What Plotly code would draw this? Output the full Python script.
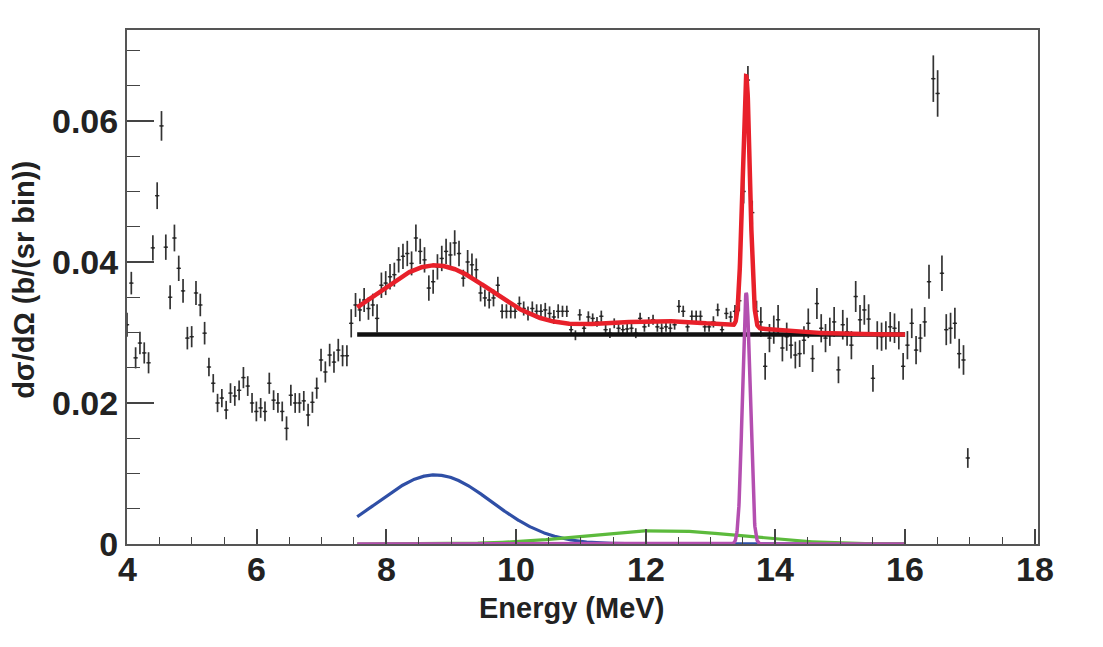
import numpy as np
import plotly.graph_objects as go

# ---------------- data ----------------
E_FIRST = 4.0          # centre of first bin (MeV)
BIN_WIDTH = 0.0665     # bin width (MeV)

xs_low = [0.0311, 0.0370, 0.0264, 0.0285, 0.0271, 0.0257, 0.0420, 0.0494, 0.0593, 0.0421,
          0.0350, 0.0434, 0.0391, 0.0359, 0.0292, 0.0294, 0.0356, 0.0339, 0.0299, 0.0251,
          0.0228, 0.0200, 0.0207, 0.0190, 0.0214, 0.0210, 0.0218, 0.0236, 0.0224, 0.0200,
          0.0188, 0.0193, 0.0188, 0.0228, 0.0204, 0.0200, 0.0188, 0.0164, 0.0211, 0.0200,
          0.0200, 0.0203, 0.0183, 0.0201, 0.0221, 0.0261, 0.0244, 0.0268, 0.0258, 0.0275,
          0.0267, 0.0267, 0.0313]
err_low = [0.0017, 0.0016, 0.0015, 0.0016, 0.0015, 0.0015, 0.0018, 0.0019, 0.0021, 0.0018,
           0.0017, 0.0019, 0.0018, 0.0017, 0.0016, 0.0015, 0.0017, 0.0016, 0.0016, 0.0013,
           0.0013, 0.0013, 0.0013, 0.0013, 0.0014, 0.0014, 0.0014, 0.0015, 0.0014, 0.0014,
           0.0014, 0.0014, 0.0014, 0.0015, 0.0014, 0.0014, 0.0014, 0.0017, 0.0015, 0.0014,
           0.0014, 0.0014, 0.0016, 0.0015, 0.0015, 0.0016, 0.0015, 0.0016, 0.0015, 0.0016,
           0.0015, 0.0015, 0.0020]

xs_bump = [0.0339, 0.0332, 0.0346, 0.0334, 0.0339, 0.0320, 0.0367, 0.0370, 0.0379, 0.0382,
           0.0403, 0.0408, 0.0412, 0.0398, 0.0434, 0.0415, 0.0403, 0.0363, 0.0372, 0.0393,
           0.0405, 0.0415, 0.0410, 0.0427, 0.0412, 0.0377, 0.0400, 0.0396, 0.0389, 0.0356,
           0.0349, 0.0346, 0.0349, 0.0367, 0.0330, 0.0330, 0.0330, 0.0330, 0.0341, 0.0334,
           0.0327, 0.0334, 0.0330, 0.0330, 0.0332, 0.0327, 0.0322, 0.0330]
err_bump = [0.0017, 0.0016, 0.0017, 0.0016, 0.0016, 0.0020, 0.0018, 0.0017, 0.0018, 0.0017,
            0.0018, 0.0018, 0.0018, 0.0017, 0.0019, 0.0018, 0.0018, 0.0018, 0.0017, 0.0018,
            0.0018, 0.0018, 0.0018, 0.0018, 0.0018, 0.0012, 0.0017, 0.0016, 0.0016, 0.0012,
            0.0012, 0.0012, 0.0012, 0.0012, 0.0010, 0.0010, 0.0010, 0.0010, 0.0010, 0.0010,
            0.0010, 0.0010, 0.0010, 0.0010, 0.0010, 0.0010, 0.0010, 0.0010]

xs_flat = [0.0330, 0.0330, 0.0304, 0.0296, 0.0325, 0.0306, 0.0322, 0.0320, 0.0315, 0.0323,
           0.0304, 0.0299, 0.0313, 0.0306, 0.0304, 0.0305, 0.0306, 0.0299, 0.0320, 0.0308,
           0.0315, 0.0318, 0.0308, 0.0306, 0.0308, 0.0306, 0.0311, 0.0337, 0.0330, 0.0308,
           0.0323, 0.0323, 0.0323, 0.0308, 0.0308, 0.0315, 0.0332, 0.0304, 0.0327, 0.0322,
           0.0330]
err_flat = [0.0008, 0.0008, 0.0007, 0.0007, 0.0008, 0.0007, 0.0008, 0.0007, 0.0007, 0.0008,
            0.0007, 0.0007, 0.0007, 0.0007, 0.0007, 0.0007, 0.0007, 0.0007, 0.0008, 0.0007,
            0.0007, 0.0007, 0.0007, 0.0007, 0.0007, 0.0007, 0.0007, 0.0009, 0.0008, 0.0007,
            0.0008, 0.0008, 0.0008, 0.0007, 0.0007, 0.0008, 0.0009, 0.0007, 0.0008, 0.0008,
            0.0009]

xs_peak = [0.0345, 0.0500, 0.0658, 0.0470, 0.0330]
err_peak = [0.0015, 0.0017, 0.0020, 0.0017, 0.0015]

xs_high = [0.0315,
           0.0252, 0.0292, 0.0304, 0.0318, 0.0278, 0.0294, 0.0282, 0.0268, 0.0270, 0.0289,
           0.0313, 0.0263, 0.0341, 0.0306, 0.0292, 0.0301, 0.0315, 0.0247, 0.0311, 0.0301,
           0.0282, 0.0351, 0.0318, 0.0332, 0.0319, 0.0235, 0.0296, 0.0294, 0.0296, 0.0308,
           0.0306, 0.0296, 0.0252, 0.0282, 0.0313, 0.0275, 0.0292, 0.0315, 0.0372]
err_high = [0.0021,
            0.0019, 0.0020, 0.0020, 0.0021, 0.0019, 0.0020, 0.0019, 0.0019, 0.0019, 0.0020,
            0.0021, 0.0019, 0.0022, 0.0020, 0.0020, 0.0020, 0.0021, 0.0019, 0.0021, 0.0020,
            0.0020, 0.0022, 0.0021, 0.0021, 0.0021, 0.0019, 0.0020, 0.0020, 0.0020, 0.0021,
            0.0021, 0.0020, 0.0019, 0.0020, 0.0021, 0.0020, 0.0020, 0.0021, 0.0024]

xs_tail = [0.0660, 0.0639, 0.0384, 0.0304, 0.0306, 0.0313, 0.0270, 0.0261, 0.0122]
err_tail = [0.0033, 0.0033, 0.0025, 0.0022, 0.0022, 0.0022, 0.0021, 0.0021, 0.0014]

# fit components (parameters)
FIT_RANGE = [7.55, 16.0]
BKG_LEVEL = 0.0297
GAUSS_BLUE = dict(amp=0.0098, mu=8.75, sigma=0.88)
GAUSS_GREEN = dict(amp=0.0019, mu=12.25, sigma=1.2)
GAUSS_MAGENTA = dict(amp=0.0356, mu=13.55, sigma=0.058)

x_ticks = [4, 6, 8, 10, 12, 14, 16, 18]
x_ticktext = ["4", "6", "8", "10", "12", "14", "16", "18"]
y_ticks = [0, 0.02, 0.04, 0.06]
y_ticktext = ["0", "0.02", "0.04", "0.06"]
x_title = "Energy (MeV)"
y_title = "dσ/dΩ (b/(sr bin))"

# ---------------- build ----------------
xsec = xs_low + xs_bump + xs_flat + xs_peak + xs_high + xs_tail
err = err_low + err_bump + err_flat + err_peak + err_high + err_tail
energy = E_FIRST + BIN_WIDTH * np.arange(len(xsec))

xf = np.linspace(FIT_RANGE[0], FIT_RANGE[1], 2500)


def gauss(x, p):
    return p["amp"] * np.exp(-0.5 * ((x - p["mu"]) / p["sigma"]) ** 2)


blue = gauss(xf, GAUSS_BLUE)
green = gauss(xf, GAUSS_GREEN)
magenta = gauss(xf, GAUSS_MAGENTA)
bkg = np.full_like(xf, BKG_LEVEL)
total = bkg + blue + green + magenta

FONT = "Liberation Sans, Arial, Helvetica, sans-serif"
TICKFONT = dict(family=FONT, size=34, weight="bold", color="#222222")

fig = go.Figure()
fig.add_trace(go.Scatter(
    x=energy, y=xsec, mode="markers",
    marker=dict(size=2, color="#222222"),
    error_y=dict(type="data", array=err, visible=True, width=0, thickness=1.7, color="#333333"),
    error_x=dict(type="constant", value=BIN_WIDTH / 2, visible=True, width=0, thickness=1.4, color="#333333"),
    showlegend=False, hoverinfo="skip"))
fig.add_trace(go.Scatter(x=xf, y=bkg, mode="lines", line=dict(color="#111111", width=4.5), showlegend=False))
fig.add_trace(go.Scatter(x=xf, y=total, mode="lines", line=dict(color="#e8202a", width=4.5), showlegend=False))
fig.add_trace(go.Scatter(x=xf, y=blue, mode="lines", line=dict(color="#2f4fa6", width=3.2), showlegend=False))
fig.add_trace(go.Scatter(x=xf, y=green, mode="lines", line=dict(color="#5cba3c", width=3.2), showlegend=False))
fig.add_trace(go.Scatter(x=xf, y=magenta, mode="lines", line=dict(color="#b44fb0", width=3.5), showlegend=False))

annotations = [
    dict(text=x_title, xref="paper", yref="paper", x=0.488, y=-0.125,
         xanchor="center", yanchor="middle", showarrow=False,
         font=dict(family=FONT, size=29, weight="bold", color="#222222")),
    dict(text=y_title, xref="paper", yref="paper", x=-0.113, y=0.514,
         xanchor="center", yanchor="middle", showarrow=False, textangle=-90,
         font=dict(family=FONT, size=29, weight="bold", color="#222222")),
]
# x tick labels placed close under the axis (ROOT style)
for xv, lab in zip(x_ticks, x_ticktext):
    annotations.append(dict(text=lab, x=xv, xref="x", y=0, yref="paper",
                            xanchor="center", yanchor="middle", yshift=-25,
                            showarrow=False, font=TICKFONT))

fig.update_layout(
    width=1095, height=639,
    margin=dict(l=119, r=65, t=22, b=103),
    paper_bgcolor="white", plot_bgcolor="white",
    font=dict(family=FONT, color="#222222"),
    annotations=annotations,
)
fig.update_xaxes(
    range=[4, 18.05], showgrid=False, zeroline=False,
    showline=True, linecolor="#555555", linewidth=2, mirror=True,
    tickvals=x_ticks, showticklabels=False,
    ticks="inside", ticklen=15, tickwidth=1.6, tickcolor="#444444",
    minor=dict(dtick=0.5, ticks="inside", ticklen=7, tickwidth=1.4, tickcolor="#444444"),
)
fig.update_yaxes(
    range=[0, 0.0729], showgrid=False, zeroline=False,
    showline=True, linecolor="#555555", linewidth=2, mirror=True,
    tickvals=y_ticks, ticktext=y_ticktext, ticks="inside", ticklen=27, tickwidth=1.6, tickcolor="#444444",
    minor=dict(dtick=0.005, ticks="inside", ticklen=13, tickwidth=1.4, tickcolor="#444444"),
    tickfont=TICKFONT,
    ticklabelstandoff=0,
)

fig.write_html("out.html")
